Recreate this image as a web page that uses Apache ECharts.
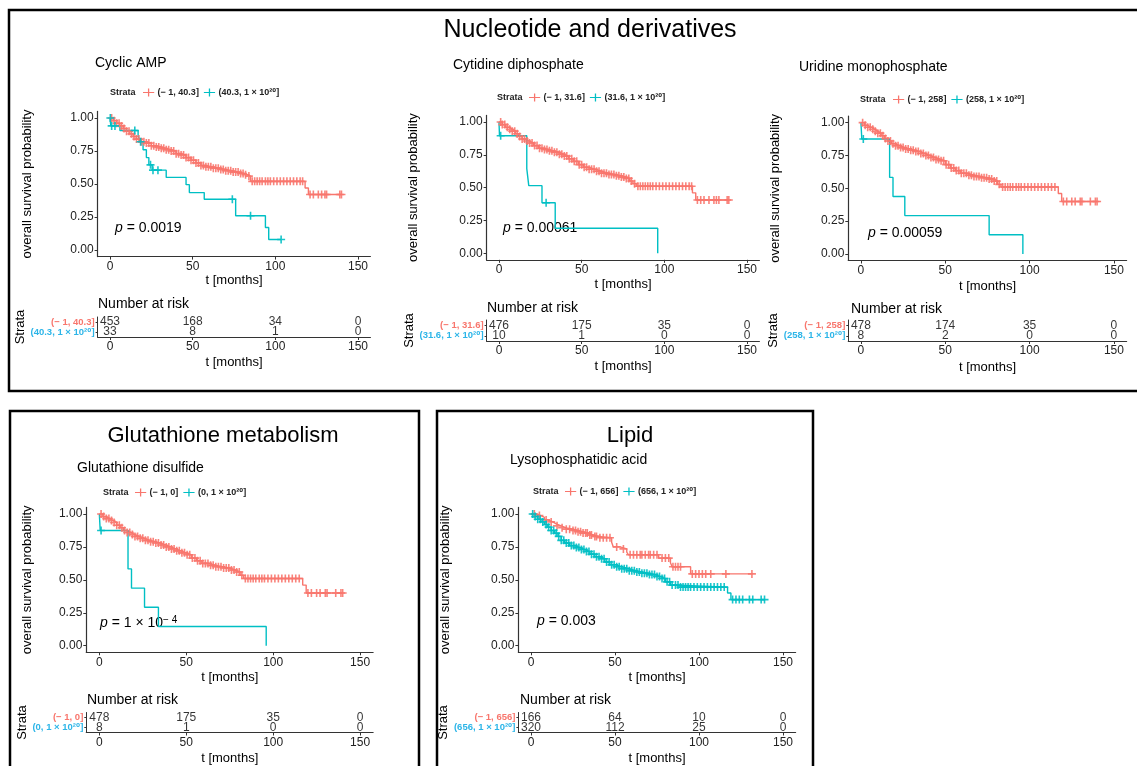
<!DOCTYPE html>
<html><head><meta charset="utf-8">
<script src="https://cdn.jsdelivr.net/npm/echarts@6/dist/echarts.min.js"></script>
<style>html,body{margin:0;padding:0;background:#fff}#c{width:1137px;height:766px}</style>
</head><body><div id="c"></div>
<script>
// ---------------- DATA ----------------
const groupTitles = ['Nucleotide and derivatives', 'Glutathione metabolism', 'Lipid'];
const subtitles = ['Cyclic AMP', 'Cytidine diphosphate', 'Uridine monophosphate', 'Glutathione disulfide', 'Lysophosphatidic acid'];
const xTicks = [0, 50, 100, 150];
const yTicks = [0, 0.25, 0.5, 0.75, 1];
const riskTimes = [0, 50, 100, 150];

// Panel 1: Cyclic AMP
const p1Strata = ['(\u2212 1, 40.3]', '(40.3, 1 \u00d7 10\u00b2\u2070]'];
const p1RedT = [0,2,4,6,8,10,12,14,16,19,22,25,28,31,34,37,40,43,46,49,52,55,58,62,66,70,74,78,81,83,85,118,120,140];
const p1RedS = [1.00,0.98,0.96,0.94,0.92,0.90,0.88,0.86,0.84,0.82,0.81,0.79,0.78,0.77,0.76,0.75,0.73,0.72,0.70,0.68,0.66,0.64,0.63,0.62,0.61,0.60,0.59,0.58,0.57,0.56,0.52,0.47,0.42,0.42];
const p1RedC = [1,2.5,4,5.5,7,8.5,10,11.5,13,14.5,16,17.5,19,20.5,22,23.5,25,26.5,28,29.5,31,32.5,34,35.5,37,38.5,40,41.5,43,44.5,46,47.5,49,50.5,52,53.5,55,56.5,58,59.5,61,62.5,64,65.5,67,68.5,70,71.5,73,74.5,76,77.5,79,80.5,82,84,86,87.5,89,90.5,92,94,95.5,97,99,101,103,105,107,109,111,113,115,116.5,121,123,126,128,130,131,139,140];
const p1BlueT = [0,0.5,6,17,18,20,22,23.5,25.5,34,46,48,57,76,94,96,103.5];
const p1BlueS = [1.00,0.94,0.905,0.87,0.82,0.76,0.70,0.645,0.605,0.55,0.495,0.435,0.385,0.26,0.17,0.08,0.08];
const p1BlueC = [0.2,1,3,15,18.5,24.5,26,29,74,85,103.5];
const p1RiskRed = [453,168,34,0];
const p1RiskBlue = [33,8,1,0];

// Panel 2: Cytidine diphosphate
const p2Strata = ['(\u2212 1, 31.6]', '(31.6, 1 \u00d7 10\u00b2\u2070]'];
const p2RedT = [0,2,4,6,8,10,12,14,16,18,21,24,27,30,33,36,39,42,45,48,51,54,58,62,66,70,74,77,79,81,83,117,119,139];
const p2RedS = [1.00,0.98,0.96,0.945,0.93,0.91,0.89,0.87,0.855,0.84,0.82,0.80,0.79,0.78,0.77,0.755,0.74,0.72,0.70,0.675,0.655,0.64,0.625,0.61,0.60,0.59,0.58,0.57,0.55,0.53,0.51,0.46,0.405,0.405];
const p2RedC = [1,2,3.5,5,6.5,8,9.5,11,12.5,14,15.5,17,18.5,20,21.5,23,24.5,26,27.5,29,30.5,32,33.5,35,36.5,38,39.5,41,42.5,44,45.5,47,48.5,50,51.5,53,54.5,56,57.5,59,60.5,62,63.5,65,66.5,68,69.5,71,72.5,74,75.5,77,78.5,80,82,84,85.5,87,88.5,90,91.5,93,95,97,99,101,103,105,107,109,111,113,115,116.5,120,122,124,127,130,131.5,133,138,139];
const p2BlueT = [0,0.3,16.8,18,26,34,96];
const p2BlueS = [1.00,0.895,0.645,0.515,0.385,0.19,0];
const p2BlueC = [1,28.5];
const p2RiskRed = [476,175,35,0];
const p2RiskBlue = [10,1,0,0];

// Panel 3: Uridine monophosphate
const p3Strata = ['(\u2212 1, 258]', '(258, 1 \u00d7 10\u00b2\u2070]'];
const p3RedT = [0,2,4,6,8,10,12,14,16,18,20,23,26,29,32,35,38,41,44,47,50,53,56,59,63,67,71,75,79,81,83,117,119,140];
const p3RedS = [1.00,0.98,0.965,0.95,0.935,0.92,0.90,0.88,0.86,0.84,0.825,0.81,0.80,0.79,0.78,0.765,0.75,0.735,0.72,0.71,0.68,0.655,0.635,0.615,0.60,0.59,0.58,0.57,0.555,0.53,0.51,0.46,0.40,0.40];
const p3RedC = [1,2.5,4,5.5,7,8.5,10,11.5,13,14.5,16,17.5,19,20.5,22,23.5,25,26.5,28,29.5,31,32.5,34,35.5,37,38.5,40,41.5,43,44.5,46,47.5,49,50.5,52,53.5,55,56.5,58,59.5,61,62.5,64,65.5,67,68.5,70,71.5,73,74.5,76,77.5,79,80.5,82,84,85.5,87,88.5,90,92,93.5,95,97,99,101,103,105,107,109,111,113,115,120,122,125,127,130,131,136,139,140];
const p3BlueT = [0,0.5,17,19,26,76,96];
const p3BlueS = [1.00,0.875,0.583,0.437,0.292,0.146,0];
const p3BlueC = [1.4];
const p3RiskRed = [478,174,35,0];
const p3RiskBlue = [8,2,0,0];

// Panel 4: Glutathione disulfide
const p4Strata = ['(\u2212 1, 0]', '(0, 1 \u00d7 10\u00b2\u2070]'];
const p4RedT = [0,2,4,6,8,10,12,14,16,18,20,23,26,29,32,35,38,41,44,47,50,53,56,59,63,67,71,75,78,81,83,117,119,140];
const p4RedS = [1.00,0.98,0.965,0.95,0.935,0.915,0.895,0.875,0.86,0.845,0.83,0.815,0.80,0.79,0.78,0.765,0.75,0.735,0.72,0.705,0.69,0.665,0.645,0.625,0.61,0.60,0.59,0.575,0.56,0.535,0.51,0.46,0.40,0.40];
const p4RedC = [1,2.5,4,5.5,7,8.5,10,11.5,13,14.5,16,17.5,19,20.5,22,23.5,25,26.5,28,29.5,31,32.5,34,35.5,37,38.5,40,41.5,43,44.5,46,47.5,49,50.5,52,53.5,55,56.5,58,59.5,61,62.5,64,65.5,67,68.5,70,71.5,73,74.5,76,77.5,79,80.5,82,84,85.5,87,88.5,90,92,93.5,95,97,99,101,103,105,107,109,111,113,115,120,122,125,127,130,131,136,139,140];
const p4BlueT = [0,0.5,16.5,18.5,26,34,96];
const p4BlueS = [1.00,0.875,0.583,0.437,0.292,0.146,0];
const p4BlueC = [1];
const p4RiskRed = [478,175,35,0];
const p4RiskBlue = [8,1,0,0];

// Panel 5: Lysophosphatidic acid
const p5Strata = ['(\u2212 1, 656]', '(656, 1 \u00d7 10\u00b2\u2070]'];
const p5RedT = [0,3,6,8,10,13,15,18,21,25,28,31,34,37,40,48,49,53,57,58,76,83,84,95,132];
const p5RedS = [1.00,0.988,0.975,0.955,0.94,0.925,0.91,0.895,0.885,0.875,0.865,0.855,0.84,0.83,0.82,0.785,0.75,0.735,0.71,0.69,0.665,0.63,0.60,0.545,0.545];
const p5RedC = [2,5,9,12,15.5,18.5,21,23,25,26.5,28,29.5,31,32.5,33.5,35,36,38,39,41,43,45,47,51,55,59,61,63,65,66,68,70,71,73,75,78,80,82,84.5,86,87.5,89,96,98,100,102,104,107,116,131.5];
const p5BlueT = [0,2,4,6,8,10,12,14,16,18,20,23,26,29,32,35,38,41,44,47,50,54,58,62,66,70,74,77,80,83,88,117,119,139];
const p5BlueS = [1.00,0.98,0.96,0.94,0.92,0.90,0.875,0.855,0.83,0.80,0.78,0.76,0.745,0.73,0.715,0.695,0.675,0.66,0.635,0.615,0.60,0.585,0.57,0.56,0.55,0.54,0.525,0.51,0.485,0.46,0.445,0.40,0.35,0.35];
const p5BlueC = [1,2.5,4,5.5,7,9,10.5,12,13.5,15,16.5,18,19.5,21,22.5,24,25.5,27,28.5,30,31.5,33,34.5,36,37.5,39,40.5,42,43.5,45,46.5,48,49.5,51,52.5,54,55.5,57,58.5,60,61.5,63,64.5,66,67.5,69,70.5,72,73.5,75,76.5,78,79.5,81,82.5,84,86,87.5,89,90.5,92,93.5,95,97,99,101,103,105,107,109,111,113,115,120,122,124,126,130,132,137,139];
const p5RiskRed = [166,64,10,0];
const p5RiskBlue = [320,112,25,0];

const pValues = ['0.0019', '0.00061', '0.00059', null, '0.003'];

// ---------------- STYLE / LAYOUT ----------------
const RED = '#F8766D', TEAL = '#00BFC4', LBLUE = '#2CB5E8';
const FONT = '"Liberation Sans", Arial, Helvetica, "DejaVu Sans", sans-serif';

const panels = [
  {strata:p1Strata, rT:p1RedT, rS:p1RedS, rC:p1RedC, bT:p1BlueT, bS:p1BlueS, bC:p1BlueC, rr:p1RiskRed, rb:p1RiskBlue},
  {strata:p2Strata, rT:p2RedT, rS:p2RedS, rC:p2RedC, bT:p2BlueT, bS:p2BlueS, bC:p2BlueC, rr:p2RiskRed, rb:p2RiskBlue},
  {strata:p3Strata, rT:p3RedT, rS:p3RedS, rC:p3RedC, bT:p3BlueT, bS:p3BlueS, bC:p3BlueC, rr:p3RiskRed, rb:p3RiskBlue},
  {strata:p4Strata, rT:p4RedT, rS:p4RedS, rC:p4RedC, bT:p4BlueT, bS:p4BlueS, bC:p4BlueC, rr:p4RiskRed, rb:p4RiskBlue},
  {strata:p5Strata, rT:p5RedT, rS:p5RedS, rC:p5RedC, bT:p5BlueT, bS:p5BlueS, bC:p5BlueC, rr:p5RiskRed, rb:p5RiskBlue}
];

const layout = [
  {plot:{left:97.6,top:111.4,width:272.8,height:145.2}, risk:{left:97.6,top:317,width:272.8,height:20},
   yGap:64, strataGap:66, xGap:17, rxGap:18.5, sub:[95,63], strataX:110, legLeft:143, legY:93, p:[115,228], nar:[98,304]},
  {plot:{left:486.6,top:115.4,width:272.8,height:144.4}, risk:{left:486.6,top:320,width:272.8,height:21},
   yGap:67, strataGap:67, xGap:18.5, rxGap:18.5, sub:[453,65], strataX:497, legLeft:529, legY:98, p:[503,228], nar:[487,308]},
  {plot:{left:848.3,top:116.1,width:278.3,height:144.4}, risk:{left:848.3,top:320,width:278.3,height:21},
   yGap:66, strataGap:63, xGap:19.5, rxGap:19.5, sub:[799,67], strataX:860, legLeft:893, legY:100, p:[868,233], nar:[851,309]},
  {plot:{left:86.3,top:507.4,width:286.8,height:144.9}, risk:{left:86.3,top:712.5,width:286.8,height:20.5},
   yGap:52, strataGap:52, xGap:18.5, rxGap:19.5, sub:[77,468], strataX:103, legLeft:135, legY:493, p:[100,623], nar:[87,700]},
  {plot:{left:518.4,top:507.4,width:277.2,height:144.9}, risk:{left:518.4,top:712.5,width:277.2,height:20.5},
   yGap:66, strataGap:65, xGap:18.5, rxGap:19.5, sub:[510,460], strataX:533, legLeft:565, legY:492, p:[537,621], nar:[520,700]}
];

const PLUS = 'path://M0,4H10V6H0Z M4,0H6V10H4Z';
const LEGICON = 'path://M0,4.4H14V5.6H0Z M6.2,0H7.8V10H6.2Z';

function survAt(T, S, t) {
  let v = S[0];
  for (let i = 0; i < T.length; i++) { if (T[i] <= t) v = S[i]; else break; }
  return v;
}

function mkX(g, gap) {
  return {gridIndex:g, type:'value', min:-7.5, max:157.5, splitLine:{show:false},
    axisLine:{show:true, onZero:false, lineStyle:{color:'#333', width:1.2}},
    axisTick:{show:true, length:3, customValues:xTicks, lineStyle:{color:'#333'}},
    axisLabel:{customValues:xTicks, margin:4, fontSize:12, color:'#222', fontFamily:FONT},
    name:'t [months]', nameLocation:'middle', nameGap:gap,
    nameTextStyle:{fontSize:13, color:'#000', fontFamily:FONT}};
}

const grids = [], xAxes = [], yAxes = [], series = [], legends = [], graphics = [];

// boxes
graphics.push({type:'rect', silent:true, shape:{x:9, y:10, width:1140, height:381}, style:{fill:'none', stroke:'#000', lineWidth:2.5}});
graphics.push({type:'rect', silent:true, shape:{x:10, y:411, width:409, height:380}, style:{fill:'none', stroke:'#000', lineWidth:2.5}});
graphics.push({type:'rect', silent:true, shape:{x:437, y:411, width:376, height:380}, style:{fill:'none', stroke:'#000', lineWidth:2.5}});

function txt(x, y, text, size, opts) {
  return {type:'text', silent:true, x:x, y:y,
    style:Object.assign({text:text, fontSize:size, fontFamily:FONT, fill:'#000', align:'left', verticalAlign:'middle',
      textAlign:'left', textVerticalAlign:'middle'}, (opts||{}))};
}
graphics.push(txt(590, 30, groupTitles[0], 25, {align:'center', textAlign:'center'}));
graphics.push(txt(223, 436, groupTitles[1], 22, {align:'center', textAlign:'center'}));
graphics.push(txt(630, 436, groupTitles[2], 22, {align:'center', textAlign:'center'}));

panels.forEach((P, i) => {
  const L = layout[i];
  const gp = 2 * i, gr = 2 * i + 1;
  grids.push(L.plot); grids.push(L.risk);
  xAxes.push(mkX(gp, L.xGap)); xAxes.push(mkX(gr, L.rxGap));
  yAxes.push({gridIndex:gp, type:'value', min:-0.05, max:1.05, splitLine:{show:false},
    axisLine:{show:true, onZero:false, lineStyle:{color:'#333', width:1.2}},
    axisTick:{show:true, length:3, customValues:yTicks, lineStyle:{color:'#333'}},
    axisLabel:{customValues:yTicks, margin:4, fontSize:12, color:'#222', fontFamily:FONT, formatter:v => v.toFixed(2)},
    name:'overall survival probability', nameLocation:'middle', nameGap:L.yGap,
    nameTextStyle:{fontSize:13, color:'#000', fontFamily:FONT}});
  yAxes.push({gridIndex:gr, type:'category', data:[P.strata[1], P.strata[0]],
    axisLine:{show:true, onZero:false, lineStyle:{color:'#333', width:1}},
    axisTick:{show:true, length:2, alignWithLabel:true, interval:0, lineStyle:{color:'#333'}},
    axisLabel:{margin:3, interval:0, hideOverlap:false, formatter:(v, idx) => idx === 1 ? '{r|' + v + '}' : '{b|' + v + '}',
      rich:{r:{color:RED, fontSize:9.5, fontWeight:'bold', fontFamily:FONT},
            b:{color:LBLUE, fontSize:9.5, fontWeight:'bold', fontFamily:FONT}}},
    name:'Strata', nameLocation:'middle', nameGap:L.strataGap,
    nameTextStyle:{fontSize:13, color:'#000', fontFamily:FONT}});

  const curves = [
    {name:P.strata[0], T:P.rT, S:P.rS, C:P.rC, color:RED},
    {name:P.strata[1], T:P.bT, S:P.bS, C:P.bC, color:TEAL}
  ];
  curves.forEach(cv => {
    series.push({type:'line', name:cv.name, xAxisIndex:gp, yAxisIndex:gp, step:'end', showSymbol:false, symbol:'none',
      data:cv.T.map((t, k) => [t, cv.S[k]]), lineStyle:{color:cv.color, width:1.4}, itemStyle:{color:cv.color}, z:3});
    series.push({type:'scatter', name:cv.name, xAxisIndex:gp, yAxisIndex:gp, symbol:PLUS, symbolSize:8,
      data:cv.C.map(t => [t, survAt(cv.T, cv.S, t)]), itemStyle:{color:cv.color, opacity:0.9}, z:4});
  });
  [[P.rr, 1], [P.rb, 0]].forEach(([arr, row]) => {
    series.push({type:'scatter', name:'risk' + i + '_' + row, xAxisIndex:gr, yAxisIndex:gr, symbolSize:1,
      itemStyle:{color:'rgba(0,0,0,0)'},
      data:riskTimes.map((t, k) => [t, row, arr[k]]),
      label:{show:true, position:'inside', formatter:p => String(p.value[2]), color:'#000', fontSize:12, fontFamily:FONT}, z:5});
  });

  legends.push({data:P.strata, left:L.legLeft, top:L.legY - 5, orient:'horizontal', padding:0, itemGap:5,
    icon:LEGICON, itemWidth:12, itemHeight:8, selectedMode:false,
    textStyle:{fontSize:9, fontWeight:'bold', color:'#222', fontFamily:FONT, padding:[0,0,0,-2]}});

  graphics.push(txt(L.sub[0], L.sub[1], subtitles[i], 14));
  graphics.push(txt(L.strataX, L.legY, 'Strata', 9, {fontWeight:'bold', fill:'#222'}));
  graphics.push(txt(L.nar[0], L.nar[1], 'Number at risk', 14));
  const pText = pValues[i] !== null ? '{i|p} = ' + pValues[i] : '{i|p} = 1 \u00d7 10{s|\u2212 4}';
  graphics.push({type:'text', silent:true, x:L.p[0], y:L.p[1],
    style:{text:pText, fontSize:14, fontFamily:FONT, fill:'#000', align:'left', verticalAlign:'middle',
      textAlign:'left', textVerticalAlign:'middle',
      rich:{i:{fontStyle:'italic', fontSize:14, fontFamily:FONT},
            s:{fontSize:10, fontFamily:FONT, verticalAlign:'top', lineHeight:16}}}});
});

const chart = echarts.init(document.getElementById('c'), null, {renderer:'canvas'});
chart.setOption({
  animation:false,
  backgroundColor:'#fff',
  textStyle:{fontFamily:FONT},
  grid:grids, xAxis:xAxes, yAxis:yAxes, series:series, legend:legends,
  graphic:{elements:graphics}
});
</script></body></html>
